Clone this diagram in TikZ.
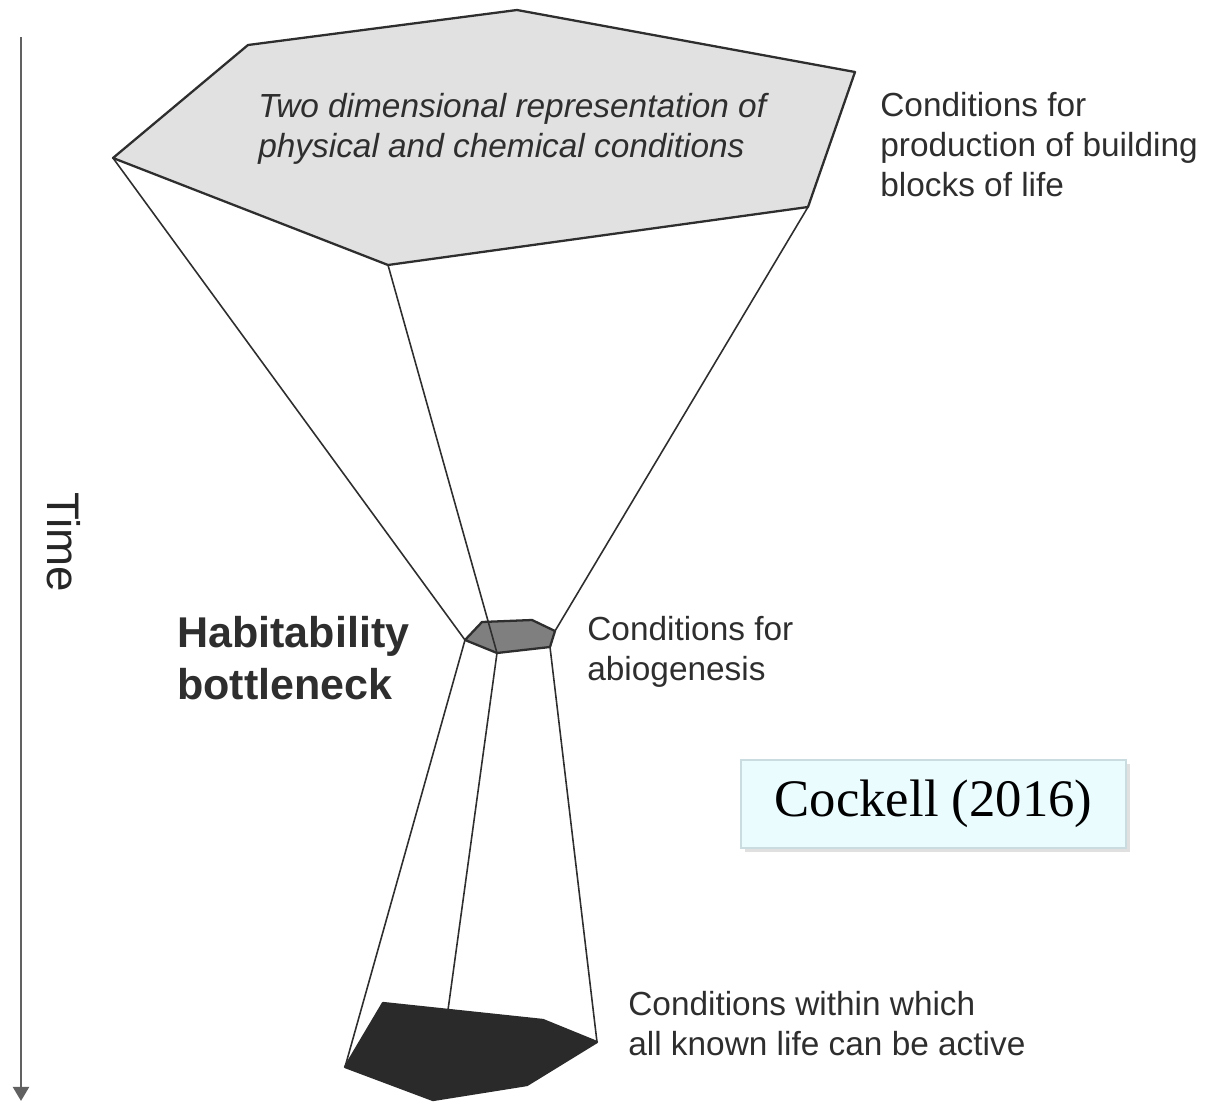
\documentclass[tikz,border=0pt]{standalone}
\usepackage{fontspec}
\setmainfont{Liberation Sans}
\newfontfamily\timesfont{Liberation Serif}
\usetikzlibrary{arrows.meta}

\definecolor{inkgray}{HTML}{2E2E2E}
\definecolor{lightface}{HTML}{E1E1E1}
\definecolor{midface}{HTML}{7F7F7F}
\definecolor{darkface}{HTML}{2A2A2A}
\definecolor{notefill}{HTML}{EBFCFF}
\definecolor{noteline}{HTML}{CADCE0}

\tikzset{
	rib/.style={draw=inkgray, line width=0.9pt},
	face/.style={draw=inkgray, line width=1.3pt, line join=round},
	note/.style={inner sep=0pt, anchor=west, align=left, text=inkgray,
		font=\fontsize{19}{22.8}\selectfont},
}

\begin{document}
\begin{tikzpicture}[x=0.02cm,y=-0.02cm]
\useasboundingbox (0,0) rectangle (1221,1102);
%
	% time axis
	\coordinate (tstart) at (21,37);
	\coordinate (tend) at (21,1101);
	\draw[draw=black!62, line width=1.6pt, -{Triangle[width=9pt,length=8pt]}] (tstart) -- (tend);
	\node[note, anchor=center, rotate=-90, text=black!85, font=\fontsize{26}{30}\selectfont] (time) at (64,542) {Time};
%
	% top face
	\coordinate (t1) at (248,45);
	\coordinate (t2) at (517,10);
	\coordinate (t3) at (855,72);
	\coordinate (t4) at (808,207);
	\coordinate (t5) at (388,265);
	\coordinate (t6) at (113,158);
	% middle face
	\coordinate (m1) at (482,622);
	\coordinate (m2) at (532,620);
	\coordinate (m3) at (555,631);
	\coordinate (m4) at (550,647);
	\coordinate (m5) at (497,653);
	\coordinate (m6) at (465,640);
	% bottom face
	\coordinate (b1) at (383,1003);
	\coordinate (b2) at (543,1020);
	\coordinate (b3) at (597,1042);
	\coordinate (b4) at (527,1085);
	\coordinate (b5) at (433,1100);
	\coordinate (b6) at (345,1067);
	\coordinate (b7) at (448,1010);
%
	\filldraw[face, fill=lightface] (t1) -- (t2) -- (t3) -- (t4) -- (t5) -- (t6) -- cycle;
	\filldraw[face, fill=midface] (m1) -- (m2) -- (m3) -- (m4) -- (m5) -- (m6) -- cycle;
	\filldraw[face, draw=darkface, fill=darkface] (b1) -- (b2) -- (b3) -- (b4) -- (b5) -- (b6) -- cycle;
%
	\draw[rib] (t6) -- (m6);
	\draw[rib] (t5) -- (m5);
	\draw[rib] (t4) -- (m3);
	\draw[rib] (m6) -- (b6);
	\draw[rib] (m5) -- (b7);
	\draw[rib] (m4) -- (b3);
%
	\node[note, font=\fontsize{19}{22.8}\selectfont\itshape] (space) at (258,129)
		{Two dimensional representation of\\physical and chemical conditions};
	\node[note] (blocks) at (880,145)
		{Conditions for\\production of building\\blocks of life};
	\node[note, font=\fontsize{24.5}{30}\selectfont\bfseries] (bottleneck) at (177,658)
		{Habitability\\bottleneck};
	\node[note] (abio) at (587,652) {Conditions for\\abiogenesis};
	\node[note] (active) at (628,1024)
		{Conditions within which\\all known life can be active};
%
	\fill[black!12] (745,764) rectangle (1130,852);
	\node[draw=noteline, fill=notefill, line width=0.8pt, minimum width=7.7cm, minimum height=1.76cm,
		font=\timesfont\fontsize{30}{36}\selectfont, text=black] (cite) at (933.5,804) {Cockell (2016)};
%
\end{tikzpicture}
\end{document}
